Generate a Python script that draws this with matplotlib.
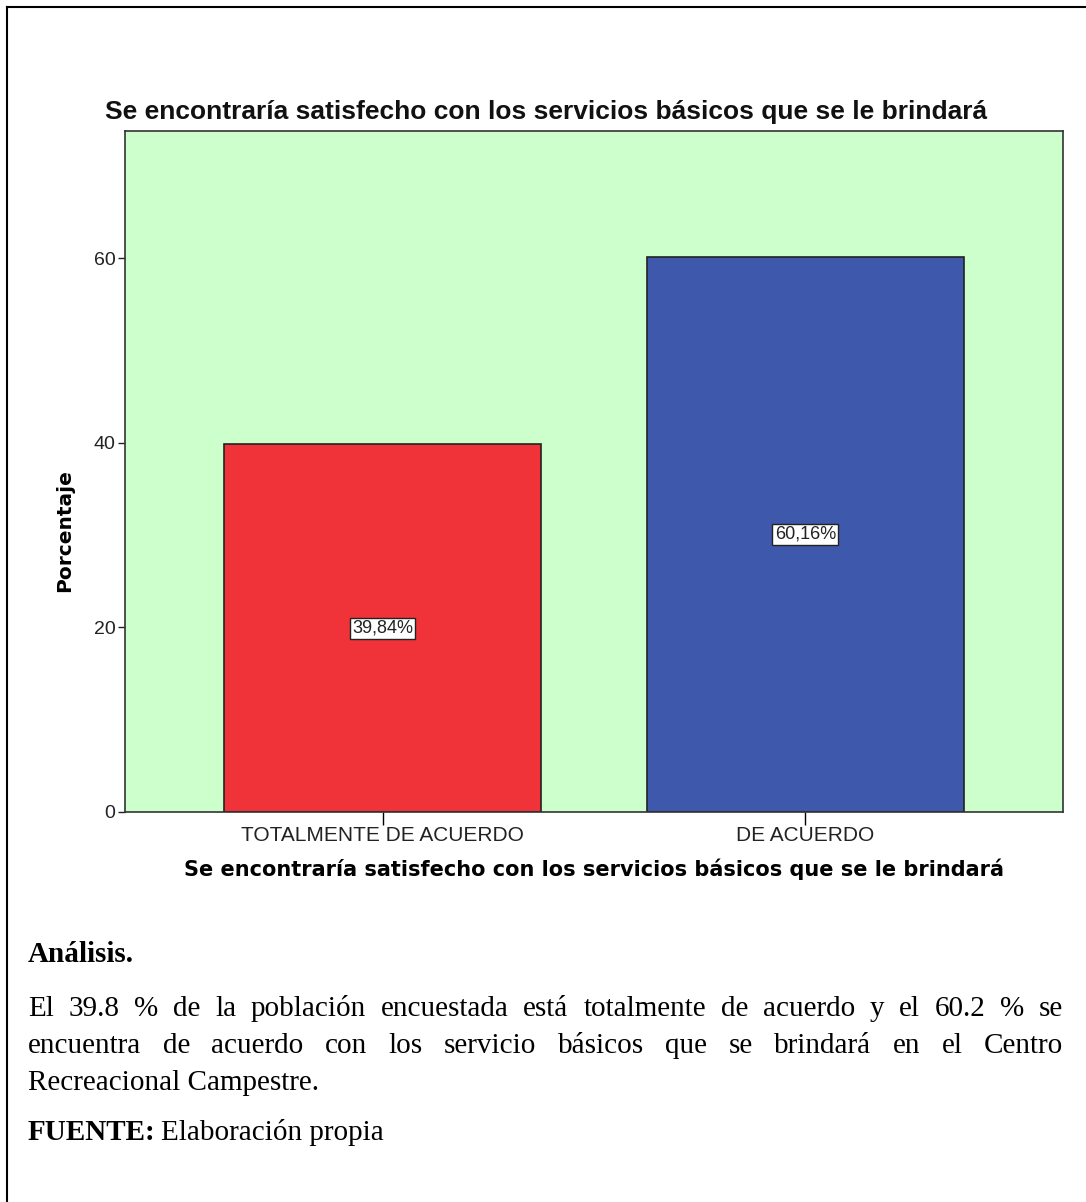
import numpy as np
import matplotlib
matplotlib.use("Agg")
import matplotlib.pyplot as plt
from matplotlib.lines import Line2D

# data
categories = ["TOTALMENTE DE ACUERDO", "DE ACUERDO"]
values = [39.84, 60.16]
bar_labels = ["39,84%", "60,16%"]
bar_colors = ["#EF3338", "#3E58AC"]
yticks = [0, 20, 40, 60]
title = "Se encontraría satisfecho con los servicios básicos que se le brindará"
body_lines = [
    "El 39.8 % de la población encuestada está totalmente de acuerdo y el 60.2 % se",
    "encuentra de acuerdo con los servicio básicos que se brindará en el Centro",
    "Recreacional Campestre.",
]

W, H = 1086, 1202
fig = plt.figure(figsize=(W / 100, H / 100), dpi=100)

# page border (left and top only, as in the screenshot)
fig.add_artist(Line2D([7 / W, 7 / W], [0, 1 - 7 / H], color="black", lw=1.5, transform=fig.transFigure))
fig.add_artist(Line2D([7 / W, 1], [1 - 7 / H, 1 - 7 / H], color="black", lw=1.5, transform=fig.transFigure))

ax = fig.add_axes([125 / W, 1 - 812 / H, 938 / W, 681 / H])
ax.set_facecolor("#CCFFCC")
x = np.arange(len(categories))
ax.bar(x, values, width=0.75, color=bar_colors, edgecolor="#222222", linewidth=1.2, zorder=2)
for xi, v, lab in zip(x, values, bar_labels):
    ax.text(xi, v / 2, lab, ha="center", va="center", fontsize=13, family="Liberation Sans",
            color="#222222",
            bbox=dict(boxstyle="square,pad=0.12", fc="white", ec="#222222", lw=1.0), zorder=3)

ax.set_xlim(-0.61, 1.61)
ax.set_ylim(0, 73.8)
ax.set_yticks(yticks)
ax.set_xticks(x)
ax.set_xticklabels(categories, family="Liberation Sans", fontsize=15, color="#222222")
ax.tick_params(axis="y", length=5, width=1, labelsize=14, colors="#222222", pad=2)
ax.tick_params(axis="x", length=9, width=1, pad=1)
for lab in ax.get_yticklabels():
    lab.set_family("Liberation Sans")
for s in ax.spines.values():
    s.set_color("#333333")
    s.set_linewidth(1.2)

# chart title (centered on the page, not on the axes)
fig.text(546 / W, 1 - 112 / H, title, family="Liberation Sans", fontweight="bold", fontsize=19,
         color="#111111", ha="center", va="center")
ax.set_ylabel("Porcentaje", family="DejaVu Sans", fontweight="bold", fontsize=14.5)
ax.yaxis.set_label_coords(-0.054, 0.414)
ax.set_xlabel(title, family="DejaVu Sans", fontweight="bold", fontsize=15, labelpad=10)

# analysis text below the chart
serif = "Liberation Serif"
fs = 21
left, right = 28, 1063
fig.text(left / W, 1 - 962 / H, "Análisis.", family=serif, fontweight="bold", fontsize=fs, va="baseline")

renderer = fig.canvas.get_renderer()
line_y = [1016, 1053, 1090]
for i, (line, ly) in enumerate(zip(body_lines, line_y)):
    words = line.split(" ")
    if i == len(body_lines) - 1:
        fig.text(left / W, 1 - ly / H, line, family=serif, fontsize=fs, va="baseline")
        continue
    texts = [fig.text(0, 1 - ly / H, w_, family=serif, fontsize=fs, va="baseline") for w_ in words]
    widths = [t.get_window_extent(renderer).width for t in texts]
    gap = (right - left - sum(widths)) / (len(words) - 1)
    xpos = left
    for t, wd in zip(texts, widths):
        t.set_x(xpos / W)
        xpos += wd + gap

t1 = fig.text(left / W, 1 - 1140 / H, "FUENTE:", family=serif, fontweight="bold", fontsize=fs, va="baseline")
wf = t1.get_window_extent(renderer).width
fig.text((left + wf + 5) / W, 1 - 1140 / H, "Elaboración propia", family=serif, fontsize=fs, va="baseline")

fig.savefig("out.png", dpi=100)
